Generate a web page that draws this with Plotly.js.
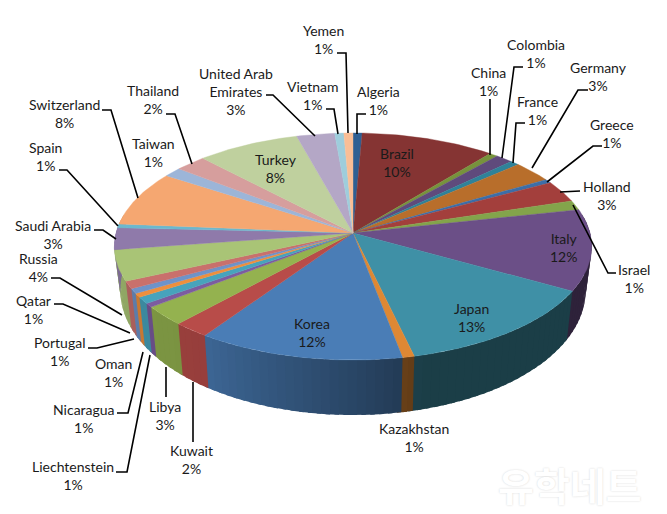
<!DOCTYPE html>
<html>
<head>
<meta charset="utf-8">
<script src="https://cdn.plot.ly/plotly-3.0.1.min.js"></script>
<style>html,body{margin:0;padding:0;background:#fff}</style>
</head>
<body>
<div id="chart" style="width:667px;height:514px"></div>
<script>
// ---- data ----
const categories = ["Algeria","Brazil","China","Colombia","France","Germany","Greece","Holland","Israel","Italy","Japan","Kazakhstan","Korea","Kuwait","Libya","Liechtenstein","Nicaragua","Oman","Portugal","Qatar","Russia","Saudi Arabia","Spain","Switzerland","Taiwan","Thailand","Turkey","United Arab<br>Emirates","Vietnam","Yemen"];
const shares = [0.69,10.2,0.64,1.33,0.69,3.03,0.56,3.08,1.36,11.58,13.19,0.72,12.5,2.19,2.75,0.56,0.94,0.55,0.69,1.06,4.39,3.08,0.56,7.89,1.36,2.36,7.83,2.89,0.69,0.69];
const percentLabels = ["1%","10%","1%","1%","1%","3%","1%","3%","1%","12%","13%","1%","12%","2%","3%","1%","1%","1%","1%","1%","4%","3%","1%","8%","1%","2%","8%","3%","1%","1%"];
// ---- styles ----
const sliceColors = ["#2F5F93","#853433","#77933C","#5F4A7C","#2F8299","#B86E2B","#3C6EA8","#A33F3C","#83A44B","#6B4F87","#3F90A6","#DE8834","#4A7DB6","#B84C49","#94B24F","#7C5CA0","#47A3BC","#EE8F3D","#6E93C9","#C9706C","#A9C476","#8F7AAA","#6BB8CE","#F5A771","#9CB5D8","#D69E9D","#BFD09E","#B4A7C6","#9ECDDC","#F9BE96"];
// ---- label layout (pixel space) ----
const labelX = [378,397,488,536,537,598,612,607,634,564,471,414,312,191,165,73,84,113,59,33,38,53,45,64,153,153,276,236,313,323];
const labelY = [100,162,81,53,110,76,133,195,278,247,317,437,332,459,415,475,418,372,351,309,267,234.5,156,113,152,99,168,91,95,39];
const leaderX = [[357,357,366],[],[490,490],[502,514,523],[513,516,525],[532,578,588],[547,593,602],[560,580],[573,608,616],[],[],[],[],[193,193],[166,166],[150,127,116],[143,128,117],[],[134,97,88],[130,63,54],[122,60,51],[116,103,94],[118,67,59],[138,111,102],[],[192,175,166],[],[315,273,266],[338,334,326],[348,346,337]];
const leaderY = [[134,114,114],[],[155,99],[158,67,67],[163,123,123],[168,90,90],[182,146,146],[192,191],[205,273,273],[],[],[],[],[382,442],[367,397],[355,472,472],[352,413,413],[],[339,348,348],[333,304,304],[315,278,278],[239,230,230],[226,170,170],[198,110,110],[],[164,114,114],[],[136,95,95],[134,109,109],[133,53,53]];

// ---- projection of the pie disc ----
const cx = 353, cy = 233, R = 237, S = 111.9, k = 0.119;
function topPoint(deg){
  const t = deg*Math.PI/180, u = Math.sin(t), v = Math.cos(t), w = 1 + k*v;
  return {x: cx + R*u/w, y: cy - S*v/w, v: v};
}
function bottomPoint(deg){
  const p = topPoint(deg);
  return {x: cx + (p.x-cx)*0.975, y: p.y + 42 - 13*p.v};
}
const shadeAnchors = [[0,0.42],[165,0.43],[175,0.52],[215,0.82],[280,0.88],[360,0.88]];
function shadeAt(deg){
  for(let i=1;i<shadeAnchors.length;i++){
    const a=shadeAnchors[i-1], b=shadeAnchors[i];
    if(deg<=b[0]) return a[1]+(b[1]-a[1])*(deg-a[0])/(b[0]-a[0]);
  }
  return 0.88;
}
function shaded(hex,f){
  const n=parseInt(hex.slice(1),16);
  return `rgb(${Math.round((n>>16&255)*f)},${Math.round((n>>8&255)*f)},${Math.round((n&255)*f)})`;
}

const total = shares.reduce((a,b)=>a+b,0);
const walls = [], tops = [];
let start = 0;
shares.forEach((share,i)=>{
  const end = start + share/total*360;
  // top face
  const xs=[cx], ys=[cy], n=Math.max(3,Math.ceil((end-start)/1));
  for(let j=0;j<=n;j++){
    const p=topPoint(start+(end-start)*j/n);
    xs.push(p.x); ys.push(p.y);
  }
  xs.push(cx); ys.push(cy);
  tops.push({type:"scatter",mode:"lines",x:xs,y:ys,fill:"toself",fillcolor:sliceColors[i],
    line:{color:sliceColors[i],width:0.4},hoverinfo:"text",text:categories[i],showlegend:false});
  // side wall: overlapping thin strips carry the shading, later strips paint over the overlap
  const a=Math.max(start,80), b=Math.min(end,280);
  if(b>a){
    const strips=Math.max(1,Math.ceil((b-a)/2));
    for(let j=0;j<strips;j++){
      const d0=a+(b-a)*j/strips, d1=Math.min(280,a+(b-a)*(j+1)/strips+1);
      const mid=a+(b-a)*(j+0.5)/strips;
      const px=[], py=[], qx=[], qy=[];
      for(let m=0;m<=4;m++){
        const d=d0+(d1-d0)*m/4, p=topPoint(d), q=bottomPoint(d);
        px.push(p.x); py.push(p.y); qx.unshift(q.x); qy.unshift(q.y);
      }
      const c=shaded(sliceColors[i],shadeAt(mid));
      walls.push({type:"scatter",mode:"lines",x:px.concat(qx,[px[0]]),y:py.concat(qy,[py[0]]),
        fill:"toself",fillcolor:c,line:{color:c,width:0},hoverinfo:"skip",showlegend:false});
    }
  }
  start = end;
});

const leaders = leaderX.map((xs,i)=>({type:"scatter",mode:"lines",x:xs,y:leaderY[i],
  line:{color:"#000",width:1.6},hoverinfo:"skip",showlegend:false})).filter(t=>t.x.length);

const annotations = categories.map((c,i)=>({
  x:labelX[i],y:labelY[i],xref:"x",yref:"y",text:c+"<br>"+percentLabels[i],showarrow:false,
  xanchor:"center",yanchor:"middle",align:"center",
  font:{family:"Lato, Carlito, sans-serif",size:14,color:"#1a1a1a"}
}));
annotations.push({x:570,y:484,xref:"x",yref:"y",text:"유학네트",showarrow:false,xanchor:"center",yanchor:"middle",
  font:{family:"'Noto Sans CJK KR',sans-serif",size:39,weight:700,color:"#ffffff",shadow:"0 0 2px #d4d4d4"}});

const axis = {visible:false,fixedrange:true,showgrid:false,zeroline:false};
Plotly.newPlot("chart",[...walls,...tops,...leaders],{
  width:667,height:514,autosize:false,showlegend:false,
  margin:{l:0,r:0,t:0,b:0,pad:0},paper_bgcolor:"#fff",plot_bgcolor:"#fff",
  xaxis:Object.assign({range:[0,667]},axis),
  yaxis:Object.assign({range:[514,0]},axis),
  annotations:annotations
},{displayModeBar:false,staticPlot:true});
</script>
</body>
</html>
